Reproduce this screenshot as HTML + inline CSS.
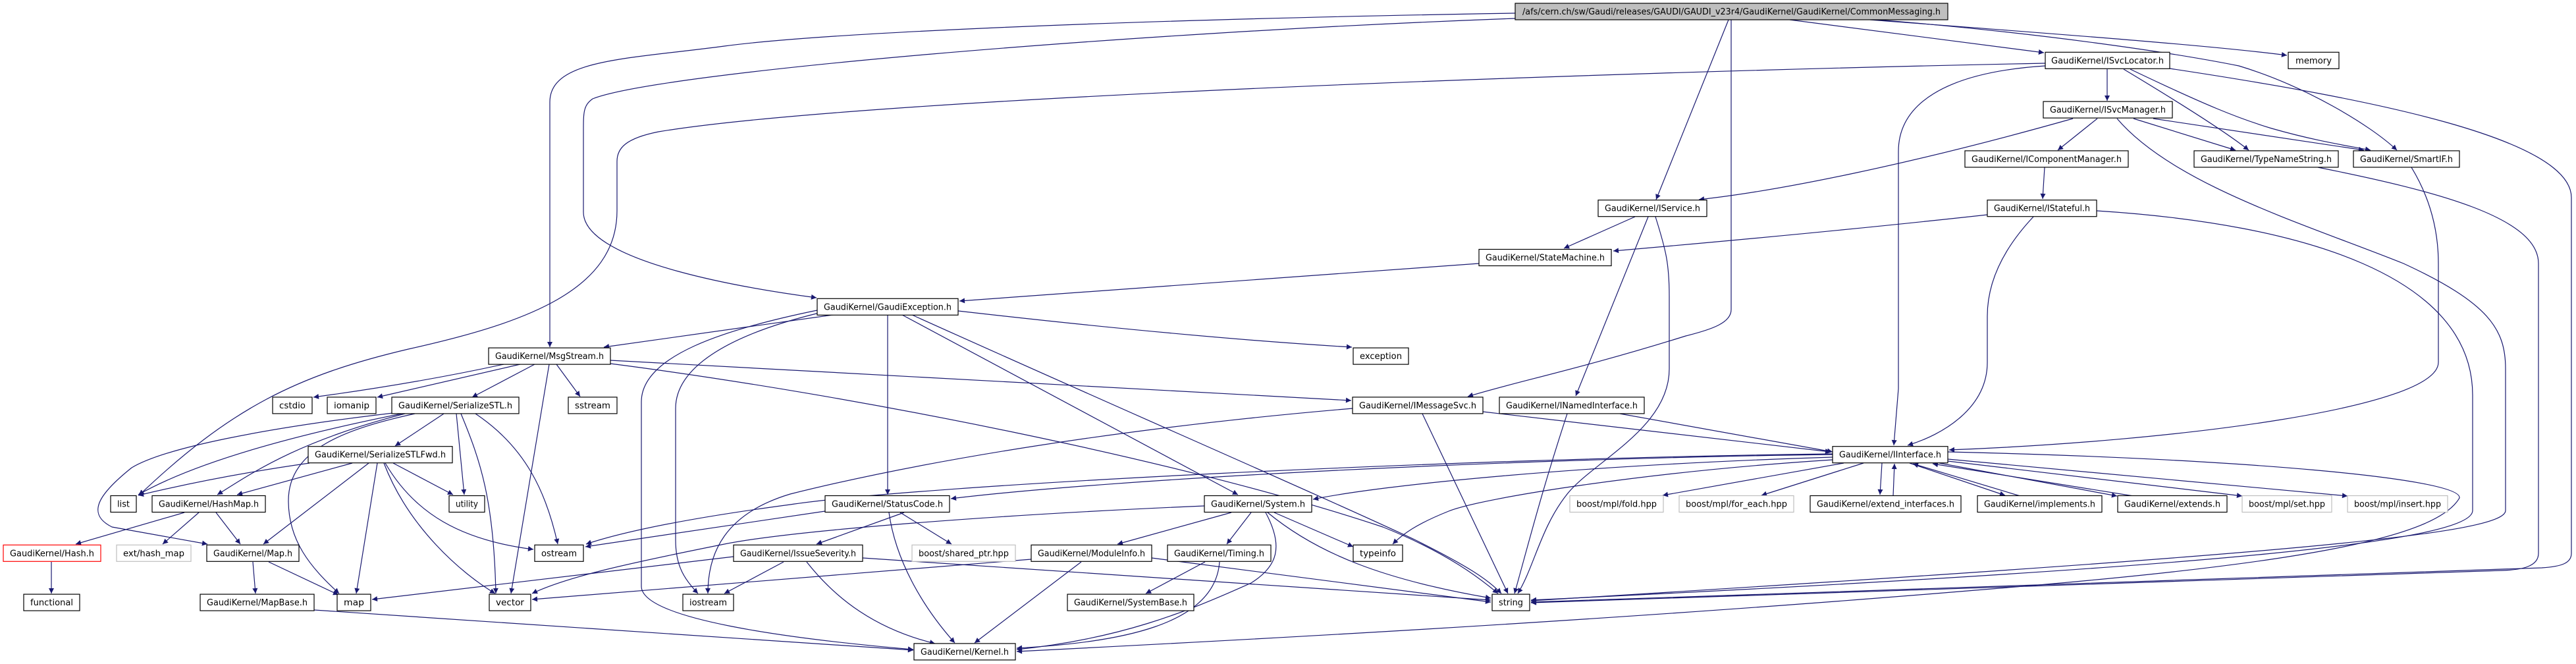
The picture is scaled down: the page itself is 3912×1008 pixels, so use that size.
<!DOCTYPE html>
<html><head><meta charset="utf-8"><style>
html,body{margin:0;padding:0;background:#fff;}
svg{display:block;}
text{font-family:"DejaVu Sans","Liberation Sans",sans-serif;font-size:13px;fill:#000;}
.e{fill:none;stroke:#191970;stroke-width:1.2;}
.n{fill:#fff;stroke:#000;stroke-width:1.2;}
.g{fill:#fff;stroke:#bfbfbf;stroke-width:1.2;}
.r{fill:#fff;stroke:#ff0000;stroke-width:1.2;}
</style></head><body>
<svg width="3912" height="1008" viewBox="0 0 3912 1008" xmlns="http://www.w3.org/2000/svg">
<defs><marker id="a" viewBox="0 0 10 10" refX="10" refY="5" markerWidth="9" markerHeight="8" markerUnits="userSpaceOnUse" orient="auto"><path d="M0,0 L10,5 L0,10 z" fill="#191970"/></marker></defs>
<g class="e" marker-end="url(#a)">
<path d="M2301,20 C1700,30 1250,50 1100,70 C950,90 835,90 835,155 L835,527"/>
<path d="M2301,28 C1700,50 1000,110 900,150 C886,160 886,170 886,200 L886,322 C886,400 1150,440 1240,452"/>
<path d="M3106,96 C2400,110 1300,150 1000,200 C950,210 937,225 937,245 L937,320 C937,440 800,490 620,530 C450,570 350,620 211,752"/>
<path d="M2625,30 L2515,303"/>
<path d="M2629,30 L2629,470 C2629,490 2600,500 2560,510 C2400,560 2300,580 2229,602"/>
<path d="M2718,30 L3104,80"/>
<path d="M2850,30 C3100,50 3300,80 3400,100 C3500,130 3600,190 3640,228"/>
<path d="M2840,30 C3100,50 3350,68 3473,84"/>
<path d="M3295,104 C3600,150 3905,210 3905,300 L3905,840 C3905,855 3890,860 3860,862 L2325,914"/>
<path d="M3215,180 C3300,280 3500,340 3650,400 C3780,460 3805,500 3805,560 L3805,775 C3805,810 3500,840 2325,912"/>
<path d="M3184,320 C3500,340 3755,420 3755,600 L3755,775 C3755,820 3400,860 2325,911"/>
<path d="M3520,254 C3700,290 3855,330 3855,400 L3855,840 C3855,860 3830,865 3800,866 L2325,915"/>
<path d="M3106,100 C2950,110 2883,160 2883,230 L2883,590 L2876,676"/>
<path d="M3200,105 L3200,153"/>
<path d="M3225,105 C3300,150 3380,200 3415,228"/>
<path d="M3235,105 C3350,160 3400,180 3450,195 C3520,215 3570,222 3600,228"/>
<path d="M3148,180 C2900,250 2700,290 2580,303"/>
<path d="M3185,180 L3125,228"/>
<path d="M3240,180 L3395,228"/>
<path d="M3270,180 L3590,228"/>
<path d="M3105,254 L3102,302"/>
<path d="M3018,326 C2800,350 2600,368 2450,381"/>
<path d="M3088,329 C3040,380 3018,430 3018,480 L3018,550 C3018,620 2950,660 2897,676"/>
<path d="M3662,254 C3690,300 3703,350 3703,400 L3703,550 C3703,620 3300,670 2960,683"/>
<path d="M2483,329 L2375,377"/>
<path d="M2503,329 L2393,601"/>
<path d="M2514,329 C2530,380 2535,400 2535,450 L2535,560 C2535,650 2420,700 2380,750 C2340,800 2330,860 2305,901"/>
<path d="M2246,400 L1457,457"/>
<path d="M1265,478 L917,527"/>
<path d="M1455,472 C1700,500 1900,518 2053,527"/>
<path d="M1348,478 L1348,751"/>
<path d="M1370,478 L1880,751"/>
<path d="M1385,478 C1700,620 2000,750 2150,820 C2230,860 2260,880 2280,901"/>
<path d="M1241,471 C1100,500 974,540 974,610 L974,890 C974,940 1200,970 1387,986"/>
<path d="M1244,475 C1100,510 1026,560 1026,620 L1026,820 C1026,860 1040,880 1060,901"/>
<path d="M765,553 C650,578 550,593 476,603"/>
<path d="M790,553 L573,603"/>
<path d="M812,553 L717,603"/>
<path d="M845,553 L881,602"/>
<path d="M834,553 L776,901"/>
<path d="M927,547 L2052,608"/>
<path d="M927,552 C1300,600 1800,700 2100,800 C2200,840 2250,880 2275,901"/>
<path d="M2252,625 L2780,686"/>
<path d="M2160,628 L2290,901"/>
<path d="M2054,620 C1700,650 1400,700 1200,750 C1100,780 1075,840 1075,901"/>
<path d="M2460,628 L2783,686"/>
<path d="M2380,628 C2340,750 2320,830 2300,901"/>
<path d="M674,628 L600,677"/>
<path d="M597,627 C400,650 250,680 200,710 C150,750 130,780 170,800 L315,826"/>
<path d="M610,628 C450,660 300,700 210,751"/>
<path d="M615,628 C450,670 380,720 330,751"/>
<path d="M630,628 C530,650 438,680 438,760 C438,820 470,860 515,901"/>
<path d="M693,628 L705,751"/>
<path d="M700,628 C730,700 750,760 753,901"/>
<path d="M722,628 C800,680 830,750 847,826"/>
<path d="M470,703 C350,720 260,740 210,752"/>
<path d="M535,703 L360,751"/>
<path d="M560,703 L400,826"/>
<path d="M573,703 L541,901"/>
<path d="M597,703 L688,751"/>
<path d="M583,703 C620,800 700,870 752,901"/>
<path d="M585,703 C630,780 700,820 810,834"/>
<path d="M280,778 L115,826"/>
<path d="M302,778 L247,826"/>
<path d="M328,778 L365,826"/>
<path d="M78,853 L78,901"/>
<path d="M384,853 L388,901"/>
<path d="M408,853 L514,903"/>
<path d="M477,926 L1387,987"/>
<path d="M2783,690 C2300,696 1700,726 1444,757"/>
<path d="M2783,694 C2400,706 2100,736 1994,758"/>
<path d="M2783,689 C2200,696 1400,736 1200,766 C1050,786 950,806 890,826"/>
<path d="M1253,776 L889,830"/>
<path d="M1829,768 C1500,782 1200,806 1100,826 C950,856 860,876 808,901"/>
<path d="M2800,703 L2525,752"/>
<path d="M2830,703 L2675,752"/>
<path d="M2858,703 L2855,751"/>
<path d="M2875,753 L2877,704"/>
<path d="M3068,753 L2905,704"/>
<path d="M2900,703 L3045,752"/>
<path d="M3240,753 L2935,704"/>
<path d="M2945,703 L3215,753"/>
<path d="M2958,700 L3405,753"/>
<path d="M2958,697 L3565,753"/>
<path d="M2783,698 C2500,716 2250,756 2200,776 C2150,796 2130,811 2115,826"/>
<path d="M2958,686 C3400,696 3740,726 3735,756 C3700,816 3500,856 3000,896 C2400,946 1800,976 1544,989"/>
<path d="M1373,778 L1240,826"/>
<path d="M1367,778 L1445,826"/>
<path d="M1350,778 C1360,850 1400,920 1450,976"/>
<path d="M1114,845 L565,910"/>
<path d="M1190,853 L1100,901"/>
<path d="M1225,853 C1270,910 1330,955 1420,977"/>
<path d="M1310,847 L2264,911"/>
<path d="M1870,778 L1697,826"/>
<path d="M1900,778 L1863,826"/>
<path d="M1935,778 L2055,830"/>
<path d="M1925,778 C2000,840 2100,880 2264,908"/>
<path d="M1922,778 C1950,830 1940,860 1900,885 C1800,930 1700,970 1544,986"/>
<path d="M1749,847 L2264,914"/>
<path d="M1642,853 L1480,976"/>
<path d="M1566,849 L808,910"/>
<path d="M1830,853 L1740,901"/>
<path d="M1852,853 C1845,950 1700,975 1544,984"/>
</g>
<g>
<rect x="2301" y="5" width="657" height="25" fill="#bfbfbf" stroke="#000" stroke-width="1.2"/><text x="2629.5" y="22" text-anchor="middle" textLength="635" lengthAdjust="spacingAndGlyphs">/afs/cern.ch/sw/Gaudi/releases/GAUDI/GAUDI_v23r4/GaudiKernel/GaudiKernel/CommonMessaging.h</text>
<rect class="n" x="3106" y="79.3" width="189" height="25"/><text x="3200.5" y="96.3" text-anchor="middle" textLength="171" lengthAdjust="spacingAndGlyphs">GaudiKernel/ISvcLocator.h</text>
<rect class="n" x="3475" y="79.3" width="77" height="25"/><text x="3513.5" y="96.3" text-anchor="middle" textLength="55" lengthAdjust="spacingAndGlyphs">memory</text>
<rect class="n" x="3103" y="154.1" width="196" height="25"/><text x="3201" y="171.1" text-anchor="middle" textLength="176" lengthAdjust="spacingAndGlyphs">GaudiKernel/ISvcManager.h</text>
<rect class="n" x="2984" y="228.9" width="248" height="25"/><text x="3108" y="245.9" text-anchor="middle" textLength="228" lengthAdjust="spacingAndGlyphs">GaudiKernel/IComponentManager.h</text>
<rect class="n" x="3332" y="228.9" width="219" height="25"/><text x="3441.5" y="245.9" text-anchor="middle" textLength="199" lengthAdjust="spacingAndGlyphs">GaudiKernel/TypeNameString.h</text>
<rect class="n" x="3574" y="228.9" width="161" height="25"/><text x="3654.5" y="245.9" text-anchor="middle" textLength="141" lengthAdjust="spacingAndGlyphs">GaudiKernel/SmartIF.h</text>
<rect class="n" x="2427" y="303.7" width="165" height="25"/><text x="2509.5" y="320.7" text-anchor="middle" textLength="145" lengthAdjust="spacingAndGlyphs">GaudiKernel/IService.h</text>
<rect class="n" x="3018" y="303.7" width="166" height="25"/><text x="3101" y="320.7" text-anchor="middle" textLength="146" lengthAdjust="spacingAndGlyphs">GaudiKernel/IStateful.h</text>
<rect class="n" x="2246" y="378.5" width="201" height="25"/><text x="2346.5" y="395.5" text-anchor="middle" textLength="181" lengthAdjust="spacingAndGlyphs">GaudiKernel/StateMachine.h</text>
<rect class="n" x="1241" y="453.3" width="214" height="25"/><text x="1348" y="470.3" text-anchor="middle" textLength="194" lengthAdjust="spacingAndGlyphs">GaudiKernel/GaudiException.h</text>
<rect class="n" x="742" y="528.1" width="185" height="25"/><text x="834.5" y="545.1" text-anchor="middle" textLength="165" lengthAdjust="spacingAndGlyphs">GaudiKernel/MsgStream.h</text>
<rect class="n" x="2055" y="528.1" width="84" height="25"/><text x="2097" y="545.1" text-anchor="middle" textLength="64" lengthAdjust="spacingAndGlyphs">exception</text>
<rect class="n" x="414" y="602.9" width="60" height="25"/><text x="444" y="619.9" text-anchor="middle" textLength="40" lengthAdjust="spacingAndGlyphs">cstdio</text>
<rect class="n" x="497" y="602.9" width="74" height="25"/><text x="534" y="619.9" text-anchor="middle" textLength="54" lengthAdjust="spacingAndGlyphs">iomanip</text>
<rect class="n" x="595" y="602.9" width="193" height="25"/><text x="691.5" y="619.9" text-anchor="middle" textLength="173" lengthAdjust="spacingAndGlyphs">GaudiKernel/SerializeSTL.h</text>
<rect class="n" x="863" y="602.9" width="74" height="25"/><text x="900" y="619.9" text-anchor="middle" textLength="54" lengthAdjust="spacingAndGlyphs">sstream</text>
<rect class="n" x="2054" y="602.9" width="198" height="25"/><text x="2153" y="619.9" text-anchor="middle" textLength="178" lengthAdjust="spacingAndGlyphs">GaudiKernel/IMessageSvc.h</text>
<rect class="n" x="2277" y="602.9" width="220" height="25"/><text x="2387" y="619.9" text-anchor="middle" textLength="200" lengthAdjust="spacingAndGlyphs">GaudiKernel/INamedInterface.h</text>
<rect class="n" x="468" y="677.7" width="219" height="25"/><text x="577.5" y="694.7" text-anchor="middle" textLength="199" lengthAdjust="spacingAndGlyphs">GaudiKernel/SerializeSTLFwd.h</text>
<rect class="n" x="2783" y="677.7" width="175" height="25"/><text x="2870.5" y="694.7" text-anchor="middle" textLength="155" lengthAdjust="spacingAndGlyphs">GaudiKernel/IInterface.h</text>
<rect class="n" x="168" y="752.5" width="39" height="25"/><text x="187.5" y="769.5" text-anchor="middle" textLength="19" lengthAdjust="spacingAndGlyphs">list</text>
<rect class="n" x="231" y="752.5" width="172" height="25"/><text x="317" y="769.5" text-anchor="middle" textLength="152" lengthAdjust="spacingAndGlyphs">GaudiKernel/HashMap.h</text>
<rect class="n" x="682" y="752.5" width="54" height="25"/><text x="709" y="769.5" text-anchor="middle" textLength="34" lengthAdjust="spacingAndGlyphs">utility</text>
<rect class="n" x="1253" y="752.5" width="189" height="25"/><text x="1347.5" y="769.5" text-anchor="middle" textLength="169" lengthAdjust="spacingAndGlyphs">GaudiKernel/StatusCode.h</text>
<rect class="n" x="1829" y="752.5" width="163" height="25"/><text x="1910.5" y="769.5" text-anchor="middle" textLength="143" lengthAdjust="spacingAndGlyphs">GaudiKernel/System.h</text>
<rect class="g" x="2384" y="752.5" width="142" height="25"/><text x="2455" y="769.5" text-anchor="middle" textLength="122" lengthAdjust="spacingAndGlyphs">boost/mpl/fold.hpp</text>
<rect class="g" x="2550" y="752.5" width="174" height="25"/><text x="2637" y="769.5" text-anchor="middle" textLength="154" lengthAdjust="spacingAndGlyphs">boost/mpl/for_each.hpp</text>
<rect class="n" x="2749" y="752.5" width="229" height="25"/><text x="2863.5" y="769.5" text-anchor="middle" textLength="209" lengthAdjust="spacingAndGlyphs">GaudiKernel/extend_interfaces.h</text>
<rect class="n" x="3003" y="752.5" width="189" height="25"/><text x="3097.5" y="769.5" text-anchor="middle" textLength="169" lengthAdjust="spacingAndGlyphs">GaudiKernel/implements.h</text>
<rect class="n" x="3216" y="752.5" width="166" height="25"/><text x="3299" y="769.5" text-anchor="middle" textLength="146" lengthAdjust="spacingAndGlyphs">GaudiKernel/extends.h</text>
<rect class="g" x="3405" y="752.5" width="136" height="25"/><text x="3473" y="769.5" text-anchor="middle" textLength="116" lengthAdjust="spacingAndGlyphs">boost/mpl/set.hpp</text>
<rect class="g" x="3565" y="752.5" width="152" height="25"/><text x="3641" y="769.5" text-anchor="middle" textLength="132" lengthAdjust="spacingAndGlyphs">boost/mpl/insert.hpp</text>
<rect class="r" x="5" y="827.3" width="148" height="25"/><text x="79" y="844.3" text-anchor="middle" textLength="128" lengthAdjust="spacingAndGlyphs">GaudiKernel/Hash.h</text>
<rect class="g" x="177" y="827.3" width="113" height="25"/><text x="233.5" y="844.3" text-anchor="middle" textLength="93" lengthAdjust="spacingAndGlyphs">ext/hash_map</text>
<rect class="n" x="314" y="827.3" width="140" height="25"/><text x="384" y="844.3" text-anchor="middle" textLength="120" lengthAdjust="spacingAndGlyphs">GaudiKernel/Map.h</text>
<rect class="n" x="812" y="827.3" width="74" height="25"/><text x="849" y="844.3" text-anchor="middle" textLength="54" lengthAdjust="spacingAndGlyphs">ostream</text>
<rect class="n" x="1114" y="827.3" width="196" height="25"/><text x="1212" y="844.3" text-anchor="middle" textLength="176" lengthAdjust="spacingAndGlyphs">GaudiKernel/IssueSeverity.h</text>
<rect class="g" x="1385" y="827.3" width="157" height="25"/><text x="1463.5" y="844.3" text-anchor="middle" textLength="137" lengthAdjust="spacingAndGlyphs">boost/shared_ptr.hpp</text>
<rect class="n" x="1566" y="827.3" width="183" height="25"/><text x="1657.5" y="844.3" text-anchor="middle" textLength="163" lengthAdjust="spacingAndGlyphs">GaudiKernel/ModuleInfo.h</text>
<rect class="n" x="1773" y="827.3" width="157" height="25"/><text x="1851.5" y="844.3" text-anchor="middle" textLength="137" lengthAdjust="spacingAndGlyphs">GaudiKernel/Timing.h</text>
<rect class="n" x="2055" y="827.3" width="75" height="25"/><text x="2092.5" y="844.3" text-anchor="middle" textLength="55" lengthAdjust="spacingAndGlyphs">typeinfo</text>
<rect class="n" x="36" y="902.1" width="85" height="25"/><text x="78.5" y="919.1" text-anchor="middle" textLength="65" lengthAdjust="spacingAndGlyphs">functional</text>
<rect class="n" x="304" y="902.1" width="173" height="25"/><text x="390.5" y="919.1" text-anchor="middle" textLength="153" lengthAdjust="spacingAndGlyphs">GaudiKernel/MapBase.h</text>
<rect class="n" x="512" y="902.1" width="51" height="25"/><text x="537.5" y="919.1" text-anchor="middle" textLength="31" lengthAdjust="spacingAndGlyphs">map</text>
<rect class="n" x="743" y="902.1" width="63" height="25"/><text x="774.5" y="919.1" text-anchor="middle" textLength="43" lengthAdjust="spacingAndGlyphs">vector</text>
<rect class="n" x="1037" y="902.1" width="77" height="25"/><text x="1075.5" y="919.1" text-anchor="middle" textLength="57" lengthAdjust="spacingAndGlyphs">iostream</text>
<rect class="n" x="1621" y="902.1" width="192" height="25"/><text x="1717" y="919.1" text-anchor="middle" textLength="172" lengthAdjust="spacingAndGlyphs">GaudiKernel/SystemBase.h</text>
<rect class="n" x="2266" y="902.1" width="57" height="25"/><text x="2294.5" y="919.1" text-anchor="middle" textLength="37" lengthAdjust="spacingAndGlyphs">string</text>
<rect class="n" x="1388" y="976.9" width="154" height="25"/><text x="1465" y="993.9" text-anchor="middle" textLength="134" lengthAdjust="spacingAndGlyphs">GaudiKernel/Kernel.h</text>
</g>
</svg>
</body></html>
